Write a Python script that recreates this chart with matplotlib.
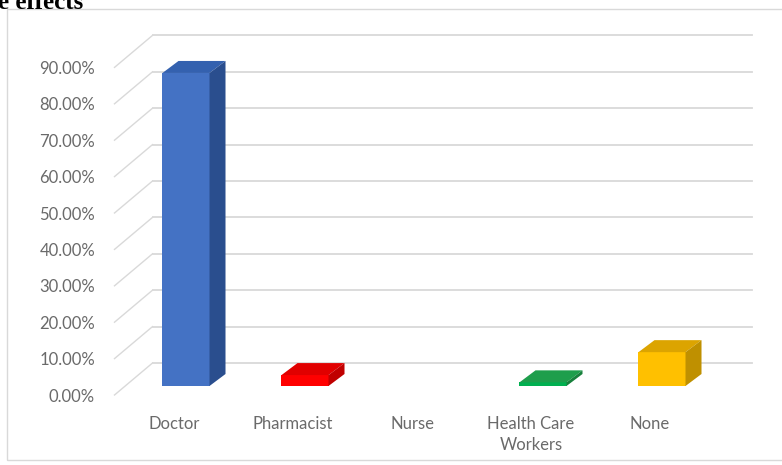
import numpy as np
import matplotlib
matplotlib.use("Agg")
import matplotlib.pyplot as plt
from matplotlib.patches import Polygon, Rectangle
from matplotlib.ticker import PercentFormatter

# data
categories = ["Doctor", "Pharmacist", "Nurse", "Health Care\nWorkers", "None"]
values = [0.860, 0.030, 0.0, 0.010, 0.093]
front_colors = ["#4472C4", "#FF0000", "#FF0000", "#00B050", "#FFC000"]
top_colors = ["#3461AF", "#E10000", "#E10000", "#1E9E4C", "#DCA400"]
side_colors = ["#2A4E8E", "#C00000", "#C00000", "#17803C", "#BF9000"]
yticks = np.arange(0, 0.91, 0.1)

W, H = 782, 465
fig = plt.figure(figsize=(W / 100, H / 100), dpi=100)
plt.rcParams['font.family'] = ['Lato', 'DejaVu Sans']

# chart border
fig.patches.append(Rectangle((7 / W, 5 / H), 1.0, 1 - 14 / H, transform=fig.transFigure,
                             fill=False, edgecolor="#d9d9d9", linewidth=1))
# caption from the page above, cut by the crop like in the source image
fig.text(-2 / W, 1 - 9 / H, "e effects", family="Liberation Serif", fontweight="bold",
         fontsize=18, ha="left", va="baseline")

# front plane in pixel terms
left, right = 114.5, 709.5
y0, y90 = 395, 67.4
ax = fig.add_axes([left / W, (H - y0) / H, (right - left) / W, (y0 - y90) / H])
ax.set_xlim(-0.5, 4.5)
ax.set_ylim(0, 0.9)
for s in ax.spines.values():
    s.set_visible(False)
ax.set_facecolor("none")

px_x = 5 / (right - left)          # data units per pixel, x
px_y = 0.9 / (y0 - y90)            # data units per pixel, y

# back wall offset, bar front offset, bar depth
wall = (38 * px_x, 32 * px_y)
bfront = (12 * px_x, 9 * px_y)
bdepth = (16 * px_x, 12 * px_y)

grid_c = "#d9d9d9"
for t in yticks:
    ax.plot([-0.5, -0.5 + wall[0]], [t, t + wall[1]], color=grid_c, lw=1, clip_on=False, zorder=0)
    ax.plot([-0.5 + wall[0], 4.5 + wall[0] + 4 * px_x], [t + wall[1], t + wall[1]], color=grid_c,
            lw=1.3, clip_on=False, zorder=0)

bw = 0.395
for i, v in enumerate(values):
    if v <= 0:
        continue
    x0 = i - bw / 2 + bfront[0]
    x1 = i + bw / 2 + bfront[0]
    b = bfront[1]
    ax.bar(i + bfront[0], v, width=bw, bottom=b, color=front_colors[i], zorder=3, clip_on=False)
    top = Polygon([(x0, b + v), (x1, b + v), (x1 + bdepth[0], b + v + bdepth[1]),
                   (x0 + bdepth[0], b + v + bdepth[1])], closed=True,
                  facecolor=top_colors[i], edgecolor="none", zorder=3, clip_on=False)
    side = Polygon([(x1, b), (x1 + bdepth[0], b + bdepth[1]), (x1 + bdepth[0], b + v + bdepth[1]),
                    (x1, b + v)], closed=True, facecolor=side_colors[i], edgecolor="none",
                   zorder=3, clip_on=False)
    ax.add_patch(top)
    ax.add_patch(side)

ax.set_yticks(yticks)
ax.yaxis.set_major_formatter(PercentFormatter(1.0, decimals=2))
ax.set_xticks(range(len(categories)))
ax.set_xticklabels(categories, linespacing=1.4)
ax.tick_params(axis="both", length=0, colors="#6a6a6a", labelsize=12)
ax.tick_params(axis="y", pad=14)
ax.tick_params(axis="x", pad=15)

fig.savefig("out.png", dpi=100)
